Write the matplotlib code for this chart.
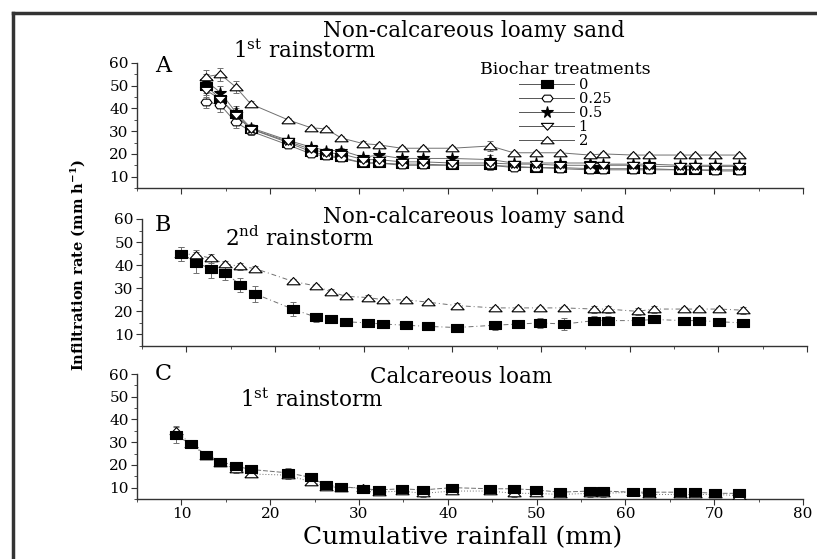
import numpy as np
from matplotlib import pyplot as plt
from matplotlib.lines import Line2D
from matplotlib.ticker import MultipleLocator

# cumulative rainfall (mm) where infiltration was measured
rain = [9.4, 11.1, 12.8, 14.4, 16.1, 17.8, 22.0, 24.6, 26.3, 28.0, 30.5, 32.2, 34.8, 37.2,
        40.5, 44.8, 47.4, 49.9, 52.6, 56.0, 57.5, 60.9, 62.7, 66.1, 67.8, 70.1, 72.8]
rain_a = rain[2:]

treatments = ['0', '0.25', '0.5', '1', '2']

# panel A - non-calcareous loamy sand, 1st rainstorm
a_0 = [50, 44, 37.5, 31, 25, 21, 19.5, 18.5, 16, 16, 15.5, 15.5, 15, 15, 14.5, 14, 14, 13.5, 13.5, 13.5, 13.5, 13, 13, 13, 13]
a_025 = [43, 41.5, 34, 30, 24, 20, 19, 18, 16, 16, 15, 15, 15, 15, 14, 14, 13.5, 13, 13, 13, 13, 13, 13, 12.5, 12.5]
a_05 = [52, 47, 38.5, 31.5, 26, 23, 21.5, 21.5, 18.5, 19.5, 18, 18, 18, 17.5, 16, 16, 16, 16, 15.5, 15.5, 15.5, 15, 15, 15, 15]
a_1 = [48, 44, 37, 31, 25.5, 22, 20.5, 20, 17.5, 17.5, 16.5, 16.5, 16, 16, 15.5, 15.5, 15, 15, 15, 15, 14.5, 14.5, 14.5, 14.5, 14.5]
a_2 = [54, 55, 49.5, 42, 35, 31.5, 31, 27, 24.5, 24, 22.5, 22.5, 22.5, 23.5, 20.5, 20.5, 20.5, 19.5, 20, 19.5, 19.5, 19.5, 19.5, 19.5, 19.5]
a_err = [3, 3, 2.5, 1.5, 1, 1, 1, 1, 1, 1, 1, 1, 1, 2, 1, 1, 1, 1, 1, 1, 1, 1, 1, 1, 1]

# panel B - non-calcareous loamy sand, 2nd rainstorm
b_0 = [45, 41, 38.5, 36.5, 31.5, 27.5, 21, 17.5, 16.5, 15.5, 15, 14.5, 14, 13.5, 13, 14, 14.5, 15, 14.5, 16, 16, 16, 16.5, 16, 16, 15.5, 15]
b_0_err = [3, 4.5, 4, 3, 3, 3.5, 3, 2, 1.5, 1, 1, 1, 1, 1.5, 1, 2, 1.5, 2, 2.5, 2, 2, 1.5, 1, 1, 1, 1, 1]
b_2 = [45, 44.5, 43, 40.5, 39.5, 38.5, 33, 31, 28.5, 26.5, 26, 25, 25, 24, 22.5, 21.5, 21.5, 21.5, 21.5, 21, 21, 20, 21, 21, 21, 21, 20.5]
b_2_err = [3, 2, 2, 1.5, 1.5, 1, 1, 1, 1, 1, 1, 1, 1, 1, 1, 1, 1, 1, 1, 1.5, 1.5, 1.5, 1.5, 1, 1, 1, 1.5]

# panel C - calcareous loam, 1st rainstorm
c_0 = [33, 29, 24.5, 21.5, 19.5, 18, 16.5, 14.5, 11, 10.5, 9.5, 9, 9.5, 9, 10, 9.5, 9.5, 9, 8, 8.5, 8.5, 8, 8, 8, 8, 7.5, 7.5]
c_0_err = [3.5, 1.5, 1, 1, 1, 1, 2, 2, 1, 1, 1, 1, 1, 1, 1, 1, 1, 1, 1, 1, 1, 1, 1, 1, 1, 1, 1]
c_2 = [35, 29, 24, 21, 18, 16, 15.5, 12.5, 10.5, 10, 10, 8, 8.5, 7.5, 8.5, 8.5, 7.5, 7.5, 7, 7.5, 7.5, 8, 7, 7, 7, 7, 6.5]
c_2_err = [2, 1.5, 1.5, 1, 1.5, 1.5, 1.5, 1.5, 1, 1, 1, 1, 1.5, 1.5, 1.5, 1.5, 1.5, 1, 1, 1.5, 1.5, 1, 1, 1, 1, 1, 1]

W, H = 817, 559

# wide flat markers like in the scanned figure
sq = [(-1, -0.75), (1, -0.75), (1, 0.75), (-1, 0.75), (-1, -0.75)]
hexa = [(-1, 0), (-0.55, -0.6), (0.55, -0.6), (1, 0), (0.55, 0.6), (-0.55, 0.6), (-1, 0)]
tri_up = [(-1, -0.5), (1, -0.5), (0, 0.6), (-1, -0.5)]
tri_dn = [(-1, 0.5), (1, 0.5), (0, -0.6), (-1, 0.5)]

styles = {
    '0': dict(marker=sq, mfc='black', ms=8),
    '0.25': dict(marker=hexa, mfc='white', ms=8),
    '0.5': dict(marker='*', mfc='black', ms=8.5),
    '1': dict(marker=tri_dn, mfc='white', ms=9),
    '2': dict(marker=tri_up, mfc='white', ms=9.5),
}

plt.rcParams['font.family'] = 'DejaVu Serif'
plt.rcParams['mathtext.fontset'] = 'dejavuserif'


def px_box(left, top, right, bottom):
    return [left / W, 1 - bottom / H, (right - left) / W, (bottom - top) / H]


def fig_txt(fig, x, y, s, size, **kw):
    fig.text(x / W, 1 - y / H, s, fontsize=size, ha='center', va='center', **kw)


def setup_axes(ax, show_x):
    ax.set_xlim(5, 80)
    ax.set_ylim(5, 60)
    for side in ['top', 'right']:
        ax.spines[side].set_visible(False)
    for side in ['left', 'bottom']:
        ax.spines[side].set_color('#333333')
        ax.spines[side].set_linewidth(1.0)
    ax.xaxis.set_major_locator(MultipleLocator(10))
    ax.xaxis.set_minor_locator(MultipleLocator(5))
    ax.yaxis.set_major_locator(MultipleLocator(10))
    ax.yaxis.set_minor_locator(MultipleLocator(5))
    ax.set_yticks([10, 20, 30, 40, 50, 60])
    ax.tick_params(which='major', direction='out', length=4, labelsize=11, color='#333333', pad=2)
    ax.tick_params(which='minor', direction='out', length=2, color='#333333')
    if not show_x:
        ax.tick_params(axis='x', labelbottom=False)
    ax.patch.set_alpha(0)


def draw(ax, x, y, err, key, ls='-'):
    st = styles[key]
    ax.errorbar(x, y, yerr=err, fmt='none', ecolor='#707070', elinewidth=0.7, capsize=2.5, capthick=0.7, zorder=2)
    ax.plot(x, y, color='#707070', lw=0.7, ls=ls, zorder=2)
    ax.plot(x, y, ls='none', marker=st['marker'], mfc=st['mfc'], mec='black', mew=0.8, ms=st['ms'], zorder=3)


fig = plt.figure(figsize=(W / 100, H / 100), dpi=100)

ax_a = fig.add_axes(px_box(137, 63, 803, 188))
ax_b = fig.add_axes(px_box(142, 219, 807, 346))
ax_c = fig.add_axes(px_box(137, 374, 803, 499))
setup_axes(ax_a, False)
setup_axes(ax_b, False)
setup_axes(ax_c, True)

for key, vals in zip(treatments, [a_0, a_025, a_05, a_1, a_2]):
    draw(ax_a, rain_a, vals, a_err, key)

draw(ax_b, rain, b_2, b_2_err, '2', ls=(0, (5, 3, 1, 3)))
draw(ax_b, rain, b_0, b_0_err, '0', ls=(0, (5, 3, 1, 3)))

draw(ax_c, rain, c_2, c_2_err, '2', ls=(0, (1, 2)))
draw(ax_c, rain, c_0, c_0_err, '0', ls=(0, (5, 2)))

handles = [Line2D([], [], color='#555555', lw=0.7, marker=styles[k]['marker'], mfc=styles[k]['mfc'],
                  mec='black', mew=0.8, ms=styles[k]['ms']) for k in treatments]
leg = ax_a.legend(handles, treatments, title='Biochar treatments', frameon=False,
                  loc='upper center', bbox_to_anchor=(565 / W, 1 - 61 / H), bbox_transform=fig.transFigure,
                  fontsize=10.5, title_fontsize=12.5, handlelength=3.8, handletextpad=0.3,
                  labelspacing=0.0, borderpad=0, borderaxespad=0)

# titles and panel letters
fig_txt(fig, 474, 31, 'Non-calcareous loamy sand', 15.5)
fig_txt(fig, 305, 51, '1$^{\\rm st}$ rainstorm', 15.5)
fig_txt(fig, 163, 66, 'A', 16)
fig_txt(fig, 474, 217, 'Non-calcareous loamy sand', 15.5)
fig_txt(fig, 300, 239, '2$^{\\rm nd}$ rainstorm', 15.5)
fig_txt(fig, 163, 225, 'B', 16)
fig_txt(fig, 461, 377, 'Calcareous loam', 15.5)
fig_txt(fig, 312, 400, '1$^{\\rm st}$ rainstorm', 15.5)
fig_txt(fig, 163, 374, 'C', 16)

fig_txt(fig, 463, 538, 'Cumulative rainfall (mm)', 18)
fig_txt(fig, 78, 265, 'Infiltration rate (mm h$^{\\mathbf{-1}}$)', 10.5, rotation=90, fontweight='bold')

# outer frame of the scanned figure
fig.add_artist(Line2D([13 / W, 13 / W], [0, 1 - 13 / H], transform=fig.transFigure, color='#333333', lw=2.5))
fig.add_artist(Line2D([13 / W, 1], [1 - 13 / H, 1 - 13 / H], transform=fig.transFigure, color='#333333', lw=2.5))

fig.savefig('out.png', dpi=100)
